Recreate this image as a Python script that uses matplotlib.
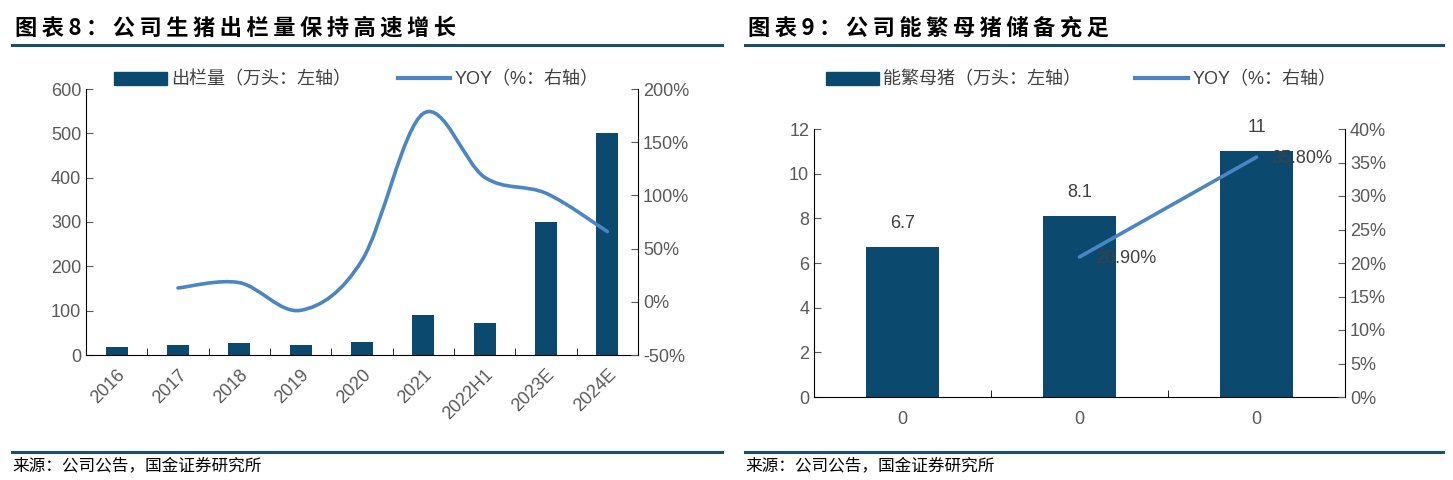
import matplotlib
matplotlib.use("Agg")
import matplotlib.pyplot as plt
from matplotlib.path import Path
from matplotlib.patches import PathPatch
from matplotlib.lines import Line2D
from matplotlib.ticker import FuncFormatter, FixedLocator
import numpy as np

plt.rcParams['font.family'] = ['Liberation Sans', 'Noto Sans CJK SC', 'DejaVu Sans']

# chart 8 data
years = ["2016", "2017", "2018", "2019", "2020", "2021", "2022H1", "2023E", "2024E"]
output = [18, 22, 26, 22, 30, 90, 72, 300, 500]
yoy8_x = [1, 2, 3, 4, 5, 6, 7, 8]
yoy8 = [13, 18, -8, 39, 177, 117, 102, 66]

# chart 9 data
sow_cats = ["0", "0", "0"]
sows = [6.7, 8.1, 11]
yoy9_x = [1, 2]
yoy9 = [20.9, 35.8]

BAR = "#0B4A6E"
LINE = "#4A85C4"
RULE = "#1B4F6E"
TICK = "#595959"
TXT = "#404040"
FS = 13


def smooth_path(xs, ys):
    # Catmull-Rom style smoothing, as in the Excel "smoothed line"
    pts = np.column_stack([xs, ys]).astype(float)
    n = len(pts)
    verts = [pts[0]]
    codes = [Path.MOVETO]
    for i in range(n - 1):
        p0 = pts[i - 1] if i > 0 else pts[i]
        p1 = pts[i]
        p2 = pts[i + 1]
        p3 = pts[i + 2] if i + 2 < n else pts[i + 1]
        c1 = p1 + (p2 - p0) / 6
        c2 = p2 - (p3 - p1) / 6
        verts += [c1, c2, p2]
        codes += [Path.CURVE4] * 3
    return Path(verts, codes)


def style_axes(ax, ax2):
    for a in (ax, ax2):
        a.spines['top'].set_visible(False)
        a.tick_params(colors=TICK, labelsize=FS, length=5, direction='in')
    ax.spines['right'].set_visible(False)
    ax2.spines['left'].set_visible(False)
    ax2.spines['bottom'].set_visible(False)
    ax.tick_params(axis='x', which='major', length=0, pad=8)
    ax.tick_params(axis='x', which='minor', length=5, direction='in')


fig = plt.figure(figsize=(14.53, 4.8), dpi=100)

# ---------- chart 8 ----------
ax = fig.add_axes([86 / 1453, 1 - 355 / 480, (638 - 86) / 1453, (355 - 89) / 480])
ax2 = ax.twinx()
x = np.arange(len(years))
ax.bar(x, output, width=0.36, color=BAR, zorder=2)
ax.set_xlim(-0.5, len(years) - 0.5)
ax.set_ylim(0, 600)
ax.set_yticks(range(0, 601, 100))
ax.set_xticks(x)
ax.set_xticklabels(years, rotation=45, ha='right', rotation_mode='anchor')
ax.xaxis.set_minor_locator(FixedLocator(np.arange(0.5, len(years) - 0.5, 1)))
ax2.set_ylim(-50, 200)
ax2.set_yticks(range(-50, 201, 50))
ax2.yaxis.set_major_formatter(FuncFormatter(lambda v, p: f"{int(v)}%"))
ax2.add_patch(PathPatch(smooth_path(yoy8_x, yoy8), fill=False, edgecolor=LINE,
                        lw=2.6, capstyle='round', zorder=3))
style_axes(ax, ax2)

h1 = plt.Rectangle((0, 0), 1, 1, color=BAR)
h2 = Line2D([0], [0], color=LINE, lw=3)
fig.legend([h1, h2], ["出栏量（万头：左轴）", "YOY（%：右轴）"], loc='center left',
           bbox_to_anchor=(98 / 1453, 1 - 80 / 480), ncol=2, frameon=False,
           fontsize=FS, handlelength=2.9, handleheight=0.75, handletextpad=0.25,
           columnspacing=2.6, labelcolor=TXT)

# ---------- chart 9 ----------
bx = fig.add_axes([814 / 1453, 1 - 397 / 480, (1345 - 814) / 1453, (397 - 129) / 480])
bx2 = bx.twinx()
x9 = np.arange(len(sow_cats))
bars = bx.bar(x9, sows, width=0.41, color=BAR, zorder=2)
bx.set_xlim(-0.5, len(sow_cats) - 0.5)
bx.set_ylim(0, 12)
bx.set_yticks(range(0, 13, 2))
bx.set_xticks(x9)
bx.set_xticklabels(sow_cats)
bx.xaxis.set_minor_locator(FixedLocator(np.arange(0.5, len(sow_cats) - 0.5, 1)))
for xi, v in zip(x9, sows):
    bx.annotate(f"{v:g}", (xi, v), xytext=(0, 11), textcoords='offset points',
                ha='center', va='bottom', fontsize=FS, color=TXT)
bx2.set_ylim(0, 40)
bx2.set_yticks(range(0, 41, 5))
bx2.yaxis.set_major_formatter(FuncFormatter(lambda v, p: f"{int(v)}%"))
bx2.plot(yoy9_x, yoy9, color=LINE, lw=2.6, solid_capstyle='round', zorder=3)
for xi, v in zip(yoy9_x, yoy9):
    bx2.annotate(f"{v:.2f}%", (xi, v), xytext=(11, -1), textcoords='offset points',
                 ha='left', va='center', fontsize=FS, color=TXT, zorder=4)
style_axes(bx, bx2)
bx.tick_params(axis='x', which='major', pad=10)

h3 = plt.Rectangle((0, 0), 1, 1, color=BAR)
h4 = Line2D([0], [0], color=LINE, lw=3)
fig.legend([h3, h4], ["能繁母猪（万头：左轴）", "YOY（%：右轴）"], loc='center left',
           bbox_to_anchor=(810 / 1453, 1 - 80 / 480), ncol=2, frameon=False,
           fontsize=FS, handlelength=2.9, handleheight=0.75, handletextpad=0.25,
           columnspacing=3.0, labelcolor=TXT)

# ---------- titles, rules, sources ----------
for x0, x1, title in [(12, 722, "图表8：公司生猪出栏量保持高速增长"),
                      (745, 1443, "图表9：公司能繁母猪储备充足")]:
    spaced = "\u2009".join(title)
    fig.text(x0 / 1453 + 0.002, 1 - 28 / 480, spaced, fontsize=16, fontweight='bold',
             fontstyle='italic', family=['Noto Sans CJK SC', 'DejaVu Sans'],
             va='center', ha='left', color='black')
    fig.add_artist(Line2D([x0 / 1453, x1 / 1453], [1 - 45 / 480] * 2, color=RULE, lw=2.2))
    fig.add_artist(Line2D([x0 / 1453, x1 / 1453], [1 - 452 / 480] * 2, color=RULE, lw=2.2))
    fig.text(x0 / 1453, 1 - 466 / 480, "来源：公司公告，国金证券研究所", fontsize=12,
             family=['Noto Sans CJK SC', 'DejaVu Sans'], va='center', ha='left', color='black')

fig.savefig("out.png", dpi=100)
